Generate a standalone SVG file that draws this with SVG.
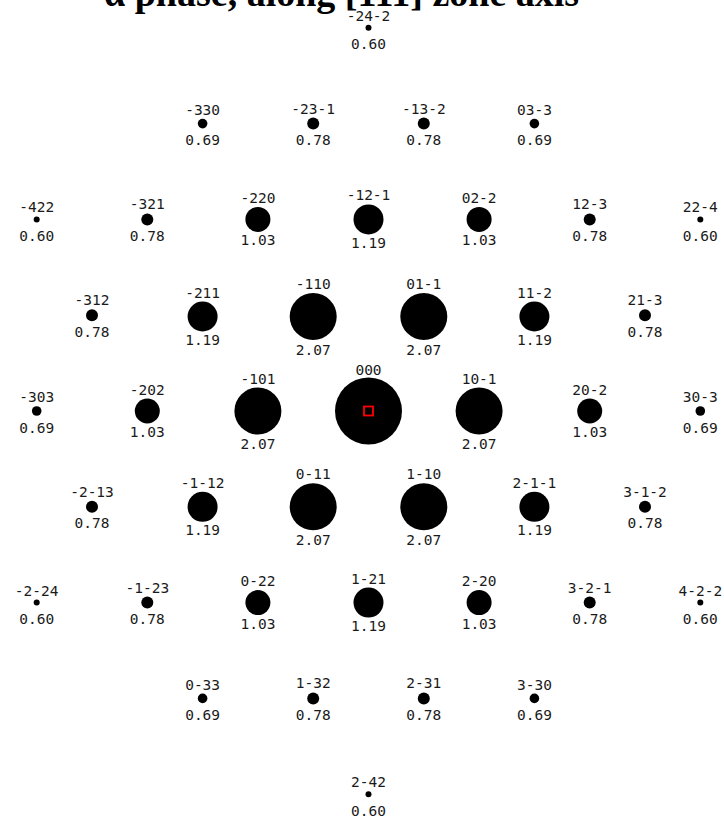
<svg xmlns="http://www.w3.org/2000/svg" width="724" height="821" viewBox="0 0 724 821">
<style>
.bg{fill:#fff}
.t{font-family:"Liberation Serif","Times New Roman",serif;font-weight:bold;font-size:38px;fill:#000}
.s{fill:#000}
.l{font-family:"DejaVu Sans Mono","Liberation Mono",monospace;font-size:14.5px;fill:#1a1a1a;text-anchor:middle}
.c{fill:none;stroke:#ff0000;stroke-width:1.8}
</style>
<rect class="bg" width="724" height="821"/>
<text class="t" x="104" y="6">α phase, along [111] zone axis</text>
<g id="connectors"/>
<g id="n_-24-2" transform="translate(368.5,27.8)"><circle class="s" r="3"/><text class="l" y="-7">-24-2</text><text class="l" y="21.5">0.60</text></g>
<g id="n_-330" transform="translate(202.6,123.6)"><circle class="s" r="4.8"/><text class="l" y="-8.8">-330</text><text class="l" y="21.5">0.69</text></g>
<g id="n_-23-1" transform="translate(313.2,123.6)"><circle class="s" r="6"/><text class="l" y="-10">-23-1</text><text class="l" y="21.5">0.78</text></g>
<g id="n_-13-2" transform="translate(423.8,123.6)"><circle class="s" r="6"/><text class="l" y="-10">-13-2</text><text class="l" y="21.5">0.78</text></g>
<g id="n_03-3" transform="translate(534.4,123.6)"><circle class="s" r="4.8"/><text class="l" y="-8.8">03-3</text><text class="l" y="21.5">0.69</text></g>
<g id="n_-422" transform="translate(36.7,219.4)"><circle class="s" r="3"/><text class="l" y="-7">-422</text><text class="l" y="21.5">0.60</text></g>
<g id="n_-321" transform="translate(147.3,219.4)"><circle class="s" r="6"/><text class="l" y="-10">-321</text><text class="l" y="21.5">0.78</text></g>
<g id="n_-220" transform="translate(257.9,219.4)"><circle class="s" r="12.5"/><text class="l" y="-16.5">-220</text><text class="l" y="26">1.03</text></g>
<g id="n_-12-1" transform="translate(368.5,219.4)"><circle class="s" r="15"/><text class="l" y="-19">-12-1</text><text class="l" y="28.5">1.19</text></g>
<g id="n_02-2" transform="translate(479.1,219.4)"><circle class="s" r="12.5"/><text class="l" y="-16.5">02-2</text><text class="l" y="26">1.03</text></g>
<g id="n_12-3" transform="translate(589.7,219.4)"><circle class="s" r="6"/><text class="l" y="-10">12-3</text><text class="l" y="21.5">0.78</text></g>
<g id="n_22-4" transform="translate(700.3,219.4)"><circle class="s" r="3"/><text class="l" y="-7">22-4</text><text class="l" y="21.5">0.60</text></g>
<g id="n_-312" transform="translate(92,315.2)"><circle class="s" r="6"/><text class="l" y="-10">-312</text><text class="l" y="21.5">0.78</text></g>
<g id="n_-211" transform="translate(202.6,316.5)"><circle class="s" r="15"/><text class="l" y="-19">-211</text><text class="l" y="28.5">1.19</text></g>
<g id="n_-110" transform="translate(313.2,316.5)"><circle class="s" r="23.5"/><text class="l" y="-27.5">-110</text><text class="l" y="38">2.07</text></g>
<g id="n_01-1" transform="translate(423.8,316.5)"><circle class="s" r="23.5"/><text class="l" y="-27.5">01-1</text><text class="l" y="38">2.07</text></g>
<g id="n_11-2" transform="translate(534.4,316.5)"><circle class="s" r="15"/><text class="l" y="-19">11-2</text><text class="l" y="28.5">1.19</text></g>
<g id="n_21-3" transform="translate(645,315.2)"><circle class="s" r="6"/><text class="l" y="-10">21-3</text><text class="l" y="21.5">0.78</text></g>
<g id="n_-303" transform="translate(36.7,411)"><circle class="s" r="4.8"/><text class="l" y="-8.8">-303</text><text class="l" y="21.5">0.69</text></g>
<g id="n_-202" transform="translate(147.3,411)"><circle class="s" r="12.5"/><text class="l" y="-16.5">-202</text><text class="l" y="26">1.03</text></g>
<g id="n_-101" transform="translate(257.9,411)"><circle class="s" r="23.5"/><text class="l" y="-27.5">-101</text><text class="l" y="38">2.07</text></g>
<g id="n_000" transform="translate(368.5,411)"><circle class="s" r="33.5"/><text class="l" y="-36.5">000</text><rect class="c" x="-4.5" y="-4.5" width="9" height="9"/></g>
<g id="n_10-1" transform="translate(479.1,411)"><circle class="s" r="23.5"/><text class="l" y="-27.5">10-1</text><text class="l" y="38">2.07</text></g>
<g id="n_20-2" transform="translate(589.7,411)"><circle class="s" r="12.5"/><text class="l" y="-16.5">20-2</text><text class="l" y="26">1.03</text></g>
<g id="n_30-3" transform="translate(700.3,411)"><circle class="s" r="4.8"/><text class="l" y="-8.8">30-3</text><text class="l" y="21.5">0.69</text></g>
<g id="n_-2-13" transform="translate(92,506.8)"><circle class="s" r="6"/><text class="l" y="-10">-2-13</text><text class="l" y="21.5">0.78</text></g>
<g id="n_-1-12" transform="translate(202.6,506.8)"><circle class="s" r="15"/><text class="l" y="-19">-1-12</text><text class="l" y="28.5">1.19</text></g>
<g id="n_0-11" transform="translate(313.2,506.8)"><circle class="s" r="23.5"/><text class="l" y="-27.5">0-11</text><text class="l" y="38">2.07</text></g>
<g id="n_1-10" transform="translate(423.8,506.8)"><circle class="s" r="23.5"/><text class="l" y="-27.5">1-10</text><text class="l" y="38">2.07</text></g>
<g id="n_2-1-1" transform="translate(534.4,506.8)"><circle class="s" r="15"/><text class="l" y="-19">2-1-1</text><text class="l" y="28.5">1.19</text></g>
<g id="n_3-1-2" transform="translate(645,506.8)"><circle class="s" r="6"/><text class="l" y="-10">3-1-2</text><text class="l" y="21.5">0.78</text></g>
<g id="n_-2-24" transform="translate(36.7,602.6)"><circle class="s" r="3"/><text class="l" y="-7">-2-24</text><text class="l" y="21.5">0.60</text></g>
<g id="n_-1-23" transform="translate(147.3,602.6)"><circle class="s" r="6"/><text class="l" y="-10">-1-23</text><text class="l" y="21.5">0.78</text></g>
<g id="n_0-22" transform="translate(257.9,602.6)"><circle class="s" r="12.5"/><text class="l" y="-16.5">0-22</text><text class="l" y="26">1.03</text></g>
<g id="n_1-21" transform="translate(368.5,602.6)"><circle class="s" r="15"/><text class="l" y="-19">1-21</text><text class="l" y="28.5">1.19</text></g>
<g id="n_2-20" transform="translate(479.1,602.6)"><circle class="s" r="12.5"/><text class="l" y="-16.5">2-20</text><text class="l" y="26">1.03</text></g>
<g id="n_3-2-1" transform="translate(589.7,602.6)"><circle class="s" r="6"/><text class="l" y="-10">3-2-1</text><text class="l" y="21.5">0.78</text></g>
<g id="n_4-2-2" transform="translate(700.3,602.6)"><circle class="s" r="3"/><text class="l" y="-7">4-2-2</text><text class="l" y="21.5">0.60</text></g>
<g id="n_0-33" transform="translate(202.6,698.4)"><circle class="s" r="4.8"/><text class="l" y="-8.8">0-33</text><text class="l" y="21.5">0.69</text></g>
<g id="n_1-32" transform="translate(313.2,698.4)"><circle class="s" r="6"/><text class="l" y="-10">1-32</text><text class="l" y="21.5">0.78</text></g>
<g id="n_2-31" transform="translate(423.8,698.4)"><circle class="s" r="6"/><text class="l" y="-10">2-31</text><text class="l" y="21.5">0.78</text></g>
<g id="n_3-30" transform="translate(534.4,698.4)"><circle class="s" r="4.8"/><text class="l" y="-8.8">3-30</text><text class="l" y="21.5">0.69</text></g>
<g id="n_2-42" transform="translate(368.5,794.2)"><circle class="s" r="3"/><text class="l" y="-7">2-42</text><text class="l" y="21.5">0.60</text></g>
</svg>
